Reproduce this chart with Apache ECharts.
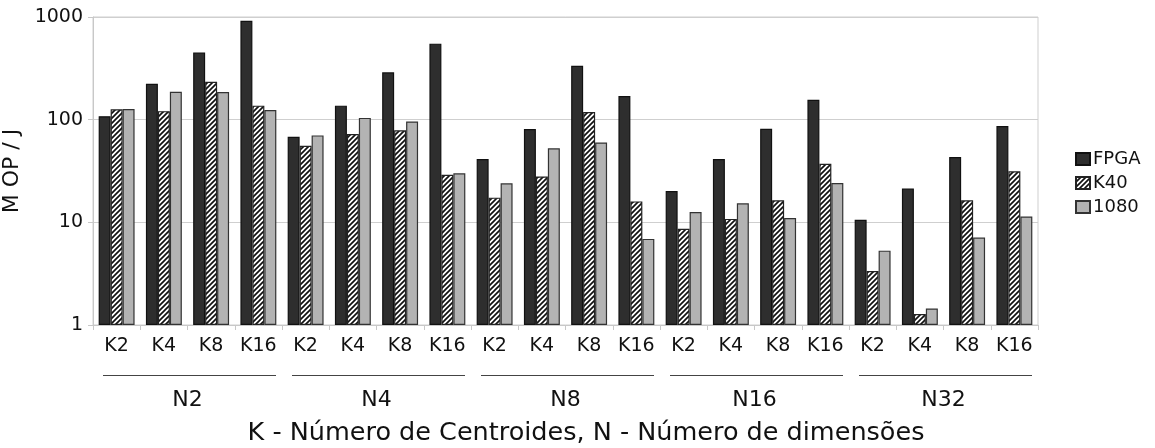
<!DOCTYPE html>
<html>
<head>
<meta charset="utf-8">
<script src="https://cdn.jsdelivr.net/npm/echarts@6/dist/echarts.min.js"></script>
<style>
html, body { margin: 0; padding: 0; background: #fff; }
#chart { width: 1155px; height: 448px; }
</style>
</head>
<body>
<div id="chart"></div>
<script>
var kLabels = ['K2', 'K4', 'K8', 'K16'];
var nLabels = ['N2', 'N4', 'N8', 'N16', 'N32'];
var yTicks = [1, 10, 100, 1000];
var seriesNames = ['FPGA', 'K40', '1080'];

var fpga = [108, 224, 452, 918, 68, 137, 289, 550, 41.3, 81, 335, 170, 20.2, 41.3, 81.5, 156, 10.6, 21.4, 43.2, 86.6];
var k40 = [126, 121, 234, 137, 55.7, 72.4, 78.7, 29.1, 17.4, 28, 118.6, 16, 8.67, 10.8, 16.4, 37.2, 3.36, 1.28, 16.4, 31.4];
var gtx1080 = [127, 187, 186, 124, 70.3, 104, 96, 30, 24, 52.6, 60, 6.9, 12.6, 15.3, 11, 24.1, 5.3, 1.45, 7.1, 11.4];

var axisTitle = 'K - Número de Centroides, N - Número de dimensões';

// categorias K dentro de cada grupo N
var categories = [];
for (var i = 0; i < nLabels.length; i++) {
	for (var j = 0; j < kLabels.length; j++) {
		categories.push(kLabels[j]);
	}
}

// hachura diagonal para a serie K40
function hatch() {
	var s = 5;
	var c = document.createElement('canvas');
	c.width = s;
	c.height = s;
	var ctx = c.getContext('2d');
	ctx.fillStyle = '#fff';
	ctx.fillRect(0, 0, s, s);
	ctx.strokeStyle = '#111';
	ctx.lineWidth = 1.7;
	ctx.beginPath();
	ctx.moveTo(0, s); ctx.lineTo(s, 0);
	ctx.moveTo(-1, 1); ctx.lineTo(1, -1);
	ctx.moveTo(s - 1, s + 1); ctx.lineTo(s + 1, s - 1);
	ctx.stroke();
	return c;
}

var font = 'DejaVu Sans';
var myChart = echarts.init(document.getElementById('chart'));
var hatchFill = { image: hatch(), repeat: 'repeat' };

option = {
	backgroundColor: '#fff',
	animation: false,
	textStyle: { fontFamily: font },
	grid: {
		left: 93,
		right: 117,
		top: 17,
		bottom: 123,
		containLabel: false,
		outerBoundsMode: 'none',
		show: true,
		borderColor: '#cfcfcf',
		borderWidth: 1
	},
	legend: {
		orient: 'vertical',
		left: 1070,
		top: 145,
		icon: 'rect',
		itemWidth: 14,
		itemHeight: 12,
		itemGap: 6,
		textStyle: { fontSize: 18, color: '#111', fontFamily: font, padding: [0, 0, 0, -2] },
		data: seriesNames
	},
	xAxis: [{
			type: 'category',
			data: categories,
			axisLine: { lineStyle: { color: '#c8c8c8', width: 1 } },
			axisTick: { show: true, length: 5, lineStyle: { color: '#c8c8c8' } },
			axisLabel: { fontSize: 19, color: '#111', margin: 12, interval: 0 },
			splitLine: { show: false }
		},
		{
			type: 'category',
			data: nLabels,
			position: 'bottom',
			offset: 60,
			axisLine: { show: false },
			axisTick: { show: false },
			axisLabel: { fontSize: 22, color: '#111', margin: 4 },
			splitLine: { show: false }
		}
	],
	yAxis: {
		type: 'log',
		logBase: 10,
		min: yTicks[0],
		max: yTicks[yTicks.length - 1],
		name: 'M OP / J',
		nameLocation: 'middle',
		nameGap: 60,
		nameTextStyle: { fontSize: 22, color: '#111' },
		axisLine: { show: true, lineStyle: { color: '#c8c8c8' } },
		axisTick: { show: true, length: 5, lineStyle: { color: '#c8c8c8' } },
		axisLabel: {
			fontSize: 19,
			color: '#111',
			margin: 10,
			formatter: function(v) {
				return String(Math.round(v));
			}
		},
		splitLine: { lineStyle: { color: '#cfcfcf', width: 1.2 } },
		minorTick: { show: false }
	},
	series: [{
			name: seriesNames[0],
			type: 'bar',
			barGap: 0,
			barCategoryGap: '24%',
			itemStyle: { color: '#2e2e2e', borderColor: '#111', borderWidth: 1.2 },
			data: fpga
		},
		{
			name: seriesNames[1],
			type: 'bar',
			barGap: 0,
			barCategoryGap: '24%',
			itemStyle: { color: hatchFill, borderColor: '#222', borderWidth: 1.2 },
			data: k40
		},
		{
			name: seriesNames[2],
			type: 'bar',
			barGap: 0,
			barCategoryGap: '24%',
			itemStyle: { color: '#b3b3b3', borderColor: '#333', borderWidth: 1.2 },
			data: gtx1080
		}
	]
};

myChart.setOption(option);

// linhas sob cada grupo N e titulo do eixo
var x0 = myChart.convertToPixel({ xAxisIndex: 0 }, 0);
var x1 = myChart.convertToPixel({ xAxisIndex: 0 }, 1);
var slot = x1 - x0;
var yBase = Math.round(myChart.convertToPixel({ yAxisIndex: 0 }, yTicks[0]));
var graphics = [];
for (var g = 0; g < nLabels.length; g++) {
	var first = myChart.convertToPixel({ xAxisIndex: 0 }, g * kLabels.length);
	var last = myChart.convertToPixel({ xAxisIndex: 0 }, g * kLabels.length + kLabels.length - 1);
	graphics.push({
		type: 'line',
		shape: { x1: first - slot / 2 + 10, y1: yBase + 50.5, x2: last + slot / 2 - 6, y2: yBase + 50.5 },
		style: { stroke: '#444', lineWidth: 1 }
	});
}
graphics.push({
	type: 'text',
	x: 586,
	y: yBase + 108,
	style: { text: axisTitle, fontSize: 25.5, fontFamily: font, fill: '#111', textAlign: 'center', textVerticalAlign: 'middle' }
});
myChart.setOption({ graphic: graphics });
</script>
</body>
</html>
